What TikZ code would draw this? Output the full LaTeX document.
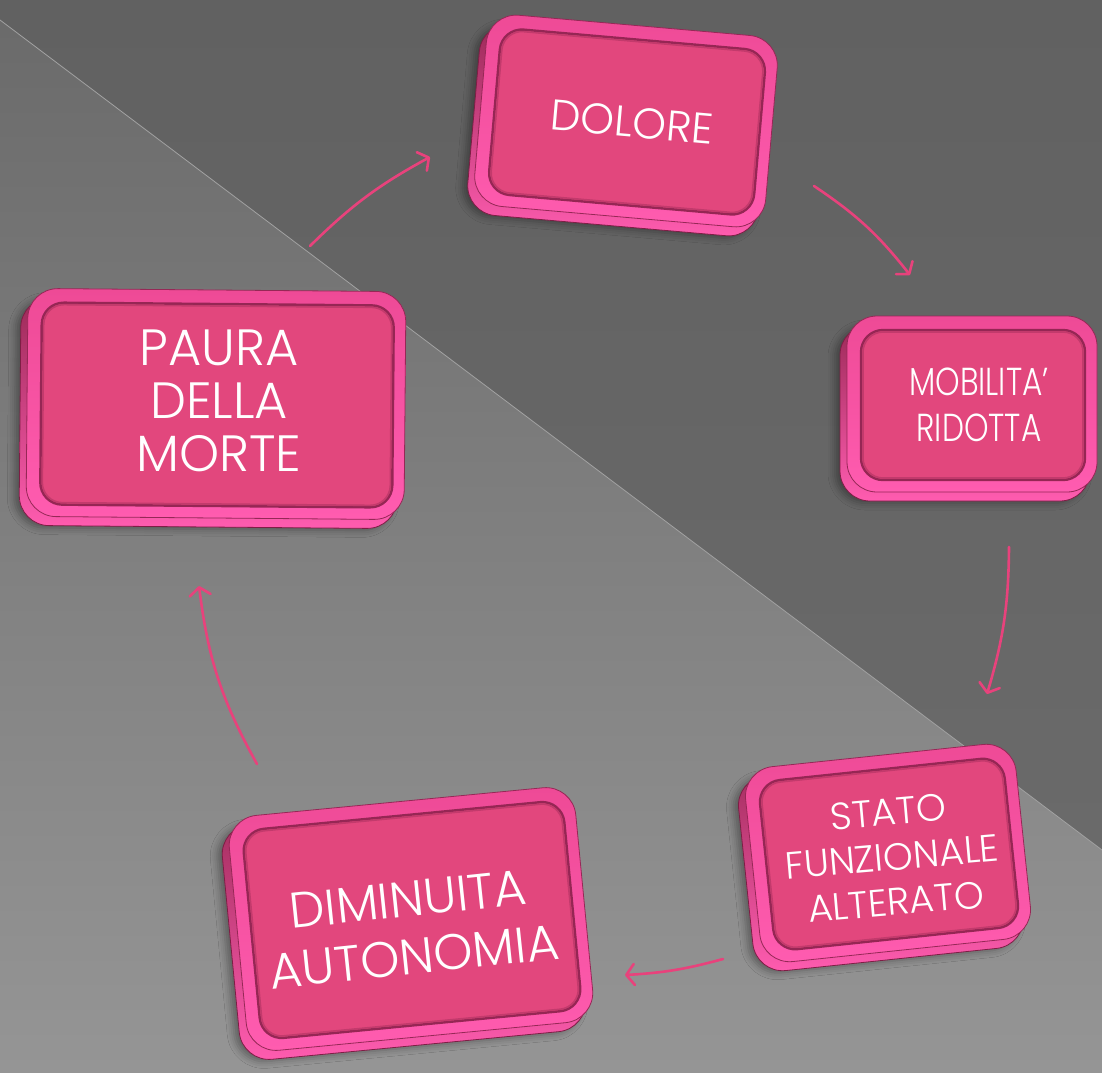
\documentclass[tikz,border=0pt]{standalone}
\usepackage{fontspec}
\newfontfamily\boxfont{Poppins Light}
\usetikzlibrary{arrows.meta,shadows.blur}
\definecolor{bgtop}{HTML}{6A6A6A}
\definecolor{bgbot}{HTML}{959595}
\definecolor{darktop}{HTML}{616161}
\definecolor{darkbot}{HTML}{6A6A6A}
\definecolor{lineg}{HTML}{A2A2A2}
\definecolor{sidetop}{HTML}{9C2A58}
\definecolor{sidebot}{HTML}{FF5CB0}
\definecolor{sidedark}{HTML}{7E1E45}
\definecolor{rimtop}{HTML}{EE4A96}
\definecolor{rimbot}{HTML}{FF5CB0}
\definecolor{rimdark}{HTML}{962856}
\definecolor{facepink}{HTML}{E2477D}
\definecolor{facedark}{HTML}{962654}
\definecolor{facemid}{HTML}{C33A6C}
\definecolor{arrowpink}{HTML}{E8427C}
\tikzset{
  side/.style={rectangle, rounded corners=30pt, top color=sidetop, bottom color=sidebot, draw=sidedark, line width=0.8pt,
     blur shadow={shadow xshift=-5pt, shadow yshift=-2pt, shadow blur radius=7pt, shadow opacity=35}},
  rim/.style={rectangle, rounded corners=30pt, top color=rimtop, bottom color=rimbot, draw=rimdark, line width=0.8pt},
  face/.style={rectangle, rounded corners=22pt, fill=facepink, draw=facedark, line width=2.4pt},
  facein/.style={rectangle, rounded corners=20pt, draw=facemid, line width=1.6pt},
  lbl/.style={text=white, align=center, inner sep=0pt},
  cyc/.style={draw=arrowpink, line width=2.6pt, line cap=round, -{Straight Barb[length=8pt,width=21pt,round]}}
}
% name, cx, cy, w, h, rot
\newcommand\pbox[6]{%
  \node[side, minimum width={#4*1pt}, minimum height={#5*1pt}, rotate=#6] (#1-side) at (#2-7,#3+9) {};
  \node[rim, minimum width={#4*1pt}, minimum height={#5*1pt}, rotate=#6] (#1-rim) at (#2,#3) {};
  \node[face, minimum width={(#4-26)*1pt}, minimum height={(#5-26)*1pt}, rotate=#6] (#1) at (#2+1,#3+1) {};
  \node[facein, minimum width={(#4-30)*1pt}, minimum height={(#5-30)*1pt}, rotate=#6] (#1-in) at (#2+1,#3+1) {};
}
\begin{document}
\begin{tikzpicture}[x=1pt,y=-1pt]
\useasboundingbox (0,0) rectangle (1102,1072);
% background
\shade[top color=bgtop, bottom color=bgbot] (0,0) rectangle (1102,1072);
\shade[top color=darktop, bottom color=darkbot] (0,0) -- (1102,0) -- (1102,850) -- (0,20) -- cycle;
\draw[lineg, line width=0.8pt] (0,20) -- (1102,850);
% boxes
\pbox{dolore}{626}{121}{292}{192}{-5}
\pbox{mobilita}{972}{404}{250}{176}{0}
\pbox{stato}{888}{853}{272}{196}{6}
\pbox{diminuita}{411}{919}{348}{236}{5.5}
\pbox{paura}{216}{404}{378}{228}{-0.5}
% labels
\node[lbl, rotate=-5, font={\boxfont\fontsize{43}{50}\selectfont}] (dolore-t) at (632,122) {DOLORE};
\node[lbl, xscale=0.8, font={\boxfont\fontsize{39}{46}\selectfont}] (mobilita-t) at (979,405) {MOBILITA’\\RIDOTTA};
\node[lbl, rotate=5, font={\boxfont\fontsize{38}{45}\selectfont}] (stato-t) at (892,857) {STATO\\FUNZIONALE\\ALTERATO};
\node[lbl, rotate=6, font={\boxfont\fontsize{50}{58}\selectfont}] (diminuita-t) at (411,928) {DIMINUITA\\AUTONOMIA};
\node[lbl, font={\boxfont\fontsize{51}{53}\selectfont}] (paura-t) at (219,401) {PAURA\\DELLA\\MORTE};
% arrows
\coordinate (a1s) at (310,246); \coordinate (a1e) at (430,157);
\coordinate (a2s) at (814,186); \coordinate (a2e) at (910,275);
\coordinate (a3s) at (1009,547); \coordinate (a3e) at (987,694);
\coordinate (a4s) at (723,959); \coordinate (a4e) at (625,975);
\coordinate (a5s) at (257,764); \coordinate (a5e) at (199,586);
\draw[cyc] (a1s) to[bend left=8] (a1e);
\draw[cyc] (a2s) to[bend left=9] (a2e);
\draw[cyc] (a3s) to[bend left=8] (a3e);
\draw[cyc] (a4s) to[bend left=6] (a4e);
\draw[cyc] (a5s) to[bend left=11] (a5e);
\end{tikzpicture}
\end{document}
